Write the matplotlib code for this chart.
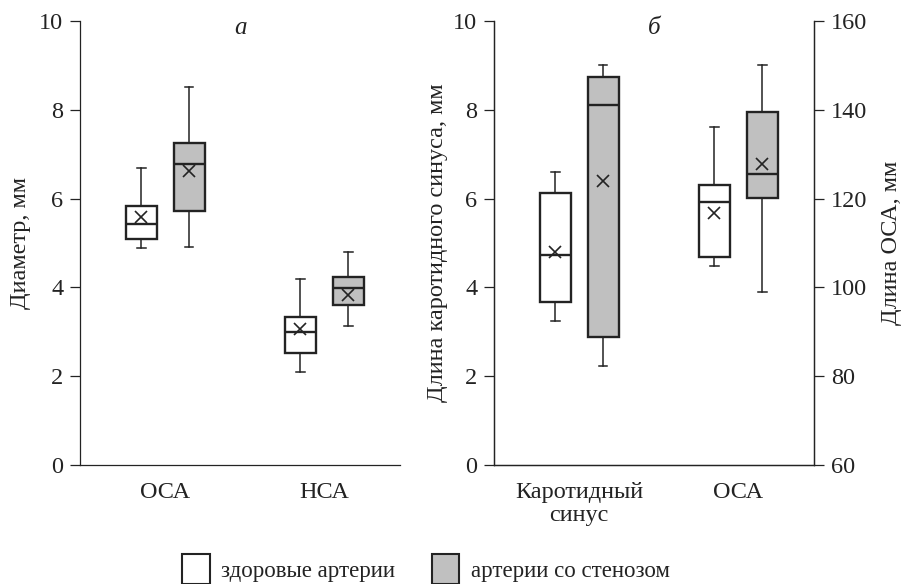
import matplotlib
matplotlib.use("Agg")
import matplotlib.pyplot as plt
from matplotlib.patches import Patch

plt.rcParams['font.family'] = ['Liberation Serif', 'DejaVu Serif']

# panel a: diameter, mm
a_categories = ["ОСА", "НСА"]
a_healthy = {  # whislo, q1, med, q3, whishi, mean
    "ОСА": [4.88, 5.08, 5.43, 5.83, 6.68, 5.58],
    "НСА": [2.09, 2.52, 2.99, 3.34, 4.18, 3.06],
}
a_stenosis = {
    "ОСА": [4.92, 5.73, 6.78, 7.26, 8.52, 6.63],
    "НСА": [3.14, 3.60, 3.99, 4.23, 4.80, 3.84],
}

# panel b: carotid sinus length (left axis, mm), OCA length (right axis, mm)
b_categories = ["Каротидный\nсинус", "ОСА"]
b_sinus_healthy = [3.25, 3.66, 4.73, 6.13, 6.61, 4.80]
b_sinus_stenosis = [2.23, 2.89, 8.11, 8.73, 9.01, 6.40]
b_oca_healthy = [104.9, 106.8, 119.2, 123.1, 136.1, 116.8]
b_oca_stenosis = [99.0, 120.2, 125.5, 139.6, 150.0, 127.8]

left_ticks = [0, 2, 4, 6, 8, 10]
right_ticks = [60, 80, 100, 120, 140, 160]

LINE = "#232323"
GRAY = "#c0c0c0"
OFF = 0.15
WIDTH = 0.195


def stats(vals):
    lo, q1, med, q3, hi, mean = vals
    return dict(whislo=lo, q1=q1, med=med, q3=q3, whishi=hi, mean=mean, fliers=[])


def draw(ax, vals, pos, color):
    ax.bxp([stats(vals)], positions=[pos], widths=WIDTH, capwidths=0.055,
           showmeans=True, patch_artist=True, manage_ticks=False,
           boxprops=dict(facecolor=color, edgecolor=LINE, linewidth=1.7),
           medianprops=dict(color=LINE, linewidth=1.7),
           whiskerprops=dict(color=LINE, linewidth=1.1),
           capprops=dict(color=LINE, linewidth=1.1),
           meanprops=dict(marker="x", markersize=8, markeredgecolor=LINE,
                          markeredgewidth=1.2))


def style(ax):
    ax.set_ylim(0, 10)
    ax.set_yticks(left_ticks)
    ax.set_xlim(1 - 0.535, 2 + 0.475)
    ax.tick_params(axis="y", direction="out", length=7, width=0.9, pad=5,
                   labelsize=17.5, colors=LINE)
    ax.tick_params(axis="x", length=0, pad=12, labelsize=17.5, colors=LINE)
    for s in ax.spines.values():
        s.set_linewidth(0.9)
        s.set_color(LINE)
    ax.spines["top"].set_visible(False)


fig = plt.figure(figsize=(9.08, 5.84), dpi=100)
W, H = 908, 584
ax1 = fig.add_axes([80 / W, 119 / H, 320 / W, 444 / H])
ax2 = fig.add_axes([494 / W, 119 / H, 320 / W, 444 / H])

# panel a
for i, cat in enumerate(a_categories):
    draw(ax1, a_healthy[cat], i + 1 - OFF, "white")
    draw(ax1, a_stenosis[cat], i + 1 + OFF, GRAY)
style(ax1)
ax1.spines["right"].set_visible(False)
ax1.set_xticks([1, 2])
ax1.set_xticklabels(a_categories)
ax1.set_ylabel("Диаметр, мм", fontsize=17.5, color=LINE, labelpad=6)
ax1.text(0.5, 0.985, "а", transform=ax1.transAxes, ha="center", va="center",
         fontsize=18, style="italic", color=LINE)

# panel b
draw(ax2, b_sinus_healthy, 1 - OFF, "white")
draw(ax2, b_sinus_stenosis, 1 + OFF, GRAY)
style(ax2)
ax2.set_xticks([1, 2])
ax2.set_xticklabels(b_categories, linespacing=1.15)
ax2.set_ylabel("Длина каротидного синуса, мм", fontsize=17.5, color=LINE, labelpad=4)
ax2.text(0.5, 0.985, "б", transform=ax2.transAxes, ha="center", va="center",
         fontsize=18, style="italic", color=LINE)

ax3 = ax2.twinx()
draw(ax3, b_oca_healthy, 2 - OFF, "white")
draw(ax3, b_oca_stenosis, 2 + OFF, GRAY)
ax3.set_ylim(60, 160)
ax3.set_yticks(right_ticks)
ax3.set_xlim(ax2.get_xlim())
ax3.tick_params(axis="y", direction="out", length=7, width=0.9, pad=5,
                labelsize=17.5, colors=LINE)
for s in ax3.spines.values():
    s.set_linewidth(0.9)
    s.set_color(LINE)
ax3.spines["top"].set_visible(False)
ax3.set_ylabel("Длина ОСА, мм", fontsize=17.5, color=LINE, labelpad=10)

handles = [Patch(facecolor="white", edgecolor=LINE, linewidth=1.5, label="здоровые артерии"),
           Patch(facecolor=GRAY, edgecolor=LINE, linewidth=1.5, label="артерии со стенозом")]
fig.legend(handles=handles, loc="center", bbox_to_anchor=(426 / W, 1 - 569 / H),
           ncol=2, frameon=False, fontsize=16.5, handlelength=1.2, handleheight=1.6,
           handletextpad=0.5, columnspacing=1.6, labelcolor=LINE)

fig.savefig("out.png", dpi=100)
